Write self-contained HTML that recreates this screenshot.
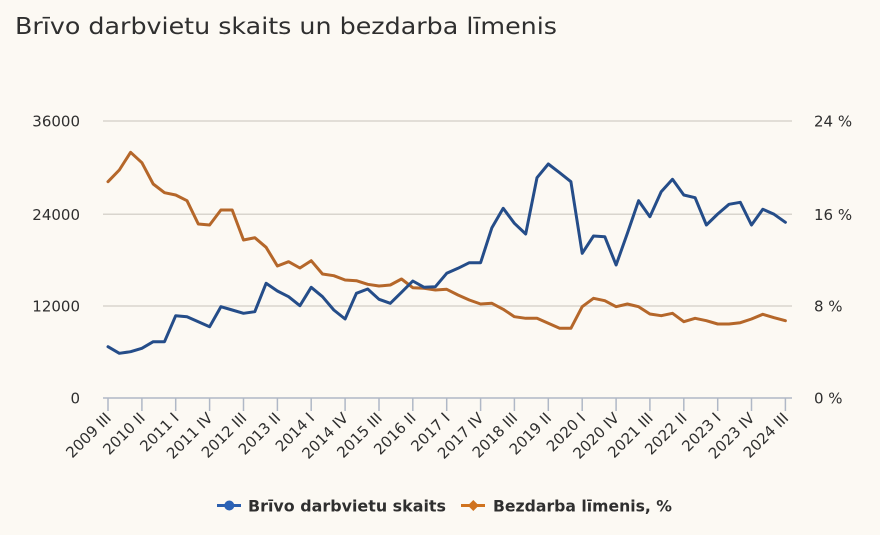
<!DOCTYPE html>
<html>
<head>
<meta charset="utf-8">
<style>
html,body{margin:0;padding:0;background:#fcf9f3;}
svg{display:block;}
text{font-family:"DejaVu Sans","Liberation Sans",sans-serif;fill:#2f2f2f;}
</style>
</head>
<body>
<svg width="880" height="535" viewBox="0 0 880 535" xmlns="http://www.w3.org/2000/svg">
<rect x="0" y="0" width="880" height="535" fill="#fcf9f3"/>
<text x="15" y="34" font-size="23" textLength="542" lengthAdjust="spacingAndGlyphs" fill="#1e1e1e">Brīvo darbvietu skaits un bezdarba līmenis</text>

<!-- grid -->
<g stroke="#d9d5ce" stroke-width="1.5">
<line x1="103" y1="121" x2="792" y2="121"/>
<line x1="103" y1="214.3" x2="792" y2="214.3"/>
<line x1="103" y1="306" x2="792" y2="306"/>
</g>
<line x1="103" y1="398" x2="792" y2="398" stroke="#b0b8c6" stroke-width="1.5"/>
<g stroke="#b0b8c6" stroke-width="1.5">
<line x1="108" y1="398" x2="108" y2="411"/>
<line x1="141.9" y1="398" x2="141.9" y2="411"/>
<line x1="175.7" y1="398" x2="175.7" y2="411"/>
<line x1="209.6" y1="398" x2="209.6" y2="411"/>
<line x1="243.5" y1="398" x2="243.5" y2="411"/>
<line x1="277.4" y1="398" x2="277.4" y2="411"/>
<line x1="311.2" y1="398" x2="311.2" y2="411"/>
<line x1="345.1" y1="398" x2="345.1" y2="411"/>
<line x1="379" y1="398" x2="379" y2="411"/>
<line x1="412.8" y1="398" x2="412.8" y2="411"/>
<line x1="446.7" y1="398" x2="446.7" y2="411"/>
<line x1="480.6" y1="398" x2="480.6" y2="411"/>
<line x1="514.4" y1="398" x2="514.4" y2="411"/>
<line x1="548.3" y1="398" x2="548.3" y2="411"/>
<line x1="582.2" y1="398" x2="582.2" y2="411"/>
<line x1="616.1" y1="398" x2="616.1" y2="411"/>
<line x1="649.9" y1="398" x2="649.9" y2="411"/>
<line x1="683.8" y1="398" x2="683.8" y2="411"/>
<line x1="717.7" y1="398" x2="717.7" y2="411"/>
<line x1="751.5" y1="398" x2="751.5" y2="411"/>
<line x1="785.4" y1="398" x2="785.4" y2="411"/>
</g>

<!-- left axis labels -->
<g font-size="15" text-anchor="end">
<text x="80" y="126.5">36000</text>
<text x="80" y="219.8">24000</text>
<text x="80" y="311.5">12000</text>
<text x="80" y="403.5">0</text>
</g>
<!-- right axis labels -->
<g font-size="15">
<text x="814" y="126.5">24 %</text>
<text x="814" y="219.8">16 %</text>
<text x="814" y="311.5">8 %</text>
<text x="814" y="403.5">0 %</text>
</g>

<!-- x labels -->
<g font-size="15" text-anchor="end">
<text transform="translate(112,419) rotate(-45)">2009 III</text>
<text transform="translate(145.9,419) rotate(-45)">2010 II</text>
<text transform="translate(179.7,419) rotate(-45)">2011 I</text>
<text transform="translate(213.6,419) rotate(-45)">2011 IV</text>
<text transform="translate(247.5,419) rotate(-45)">2012 III</text>
<text transform="translate(281.4,419) rotate(-45)">2013 II</text>
<text transform="translate(315.2,419) rotate(-45)">2014 I</text>
<text transform="translate(349.1,419) rotate(-45)">2014 IV</text>
<text transform="translate(383,419) rotate(-45)">2015 III</text>
<text transform="translate(416.8,419) rotate(-45)">2016 II</text>
<text transform="translate(450.7,419) rotate(-45)">2017 I</text>
<text transform="translate(484.6,419) rotate(-45)">2017 IV</text>
<text transform="translate(518.4,419) rotate(-45)">2018 III</text>
<text transform="translate(552.3,419) rotate(-45)">2019 II</text>
<text transform="translate(586.2,419) rotate(-45)">2020 I</text>
<text transform="translate(620.1,419) rotate(-45)">2020 IV</text>
<text transform="translate(653.9,419) rotate(-45)">2021 III</text>
<text transform="translate(687.8,419) rotate(-45)">2022 II</text>
<text transform="translate(721.7,419) rotate(-45)">2023 I</text>
<text transform="translate(755.5,419) rotate(-45)">2023 IV</text>
<text transform="translate(789.4,419) rotate(-45)">2024 III</text>
</g>

<!-- orange series -->
<polyline fill="none" stroke="#b5672a" stroke-width="3" stroke-linejoin="round" stroke-linecap="round" points="
108.0,181.7 119.3,170 130.6,152.3 141.9,162.7 153.2,184 164.5,192.7 175.7,195 187.0,200.7 198.3,224 209.6,225
220.9,210 232.2,210 243.5,240 254.8,237.7 266.1,247.3 277.4,266 288.6,261.7 299.9,268 311.2,260.7 322.5,274
333.8,275.7 345.1,280 356.4,280.7 367.7,284.3 379.0,286 390.3,285 401.5,279 412.8,287.7 424.1,288.3 435.4,290
446.7,289.3 458.0,295 469.3,300 480.6,304 491.9,303.3 503.2,309.3 514.4,316.7 525.7,318.3 537.0,318.3 548.3,323.3
559.6,328.3 570.9,328.3 582.2,306.7 593.5,298.3 604.8,300.7 616.1,306.7 627.4,304 638.6,306.7 649.9,314 661.2,315.7
672.5,313.3 683.8,321.7 695.1,318.3 706.4,320.7 717.7,324 729.0,324 740.3,322.7 751.5,319 762.8,314.3 774.1,317.7 785.4,320.7"/>

<!-- blue series -->
<polyline fill="none" stroke="#254d89" stroke-width="3" stroke-linejoin="round" stroke-linecap="round" points="
108.0,346.7 119.3,353.3 130.6,351.7 141.9,348.3 153.2,341.7 164.5,341.7 175.7,315.7 187.0,316.7 198.3,321.7 209.6,326.7
220.9,306.7 232.2,310 243.5,313.3 254.8,311.7 266.1,283.3 277.4,291 288.6,296.7 299.9,305.7 311.2,287.3 322.5,296.7
333.8,310 345.1,319 356.4,293.3 367.7,289 379.0,299.3 390.3,303.3 401.5,292.3 412.8,281 424.1,287.3 435.4,286.7
446.7,273.3 458.0,268.3 469.3,262.7 480.6,262.7 491.9,227.7 503.2,208.3 514.4,223.3 525.7,234 537.0,177.7 548.3,164
559.6,172.7 570.9,181.7 582.2,253.3 593.5,236 604.8,236.7 616.1,265 627.4,233.3 638.6,200.7 649.9,216.7 661.2,191.7
672.5,179.3 683.8,195 695.1,197.7 706.4,225 717.7,214 729.0,204.3 740.3,202.3 751.5,225 762.8,209.3 774.1,214.3 785.4,222.3"/>

<!-- legend -->
<line x1="217" y1="505.5" x2="241" y2="505.5" stroke="#2b5fae" stroke-width="3"/>
<circle cx="229.3" cy="505.5" r="5" fill="#2b62b6"/>
<text x="248" y="511.5" font-size="16" font-weight="bold" textLength="198" lengthAdjust="spacingAndGlyphs" fill="#222">Brīvo darbvietu skaits</text>
<line x1="461" y1="505.5" x2="485" y2="505.5" stroke="#d0731f" stroke-width="3"/>
<polygon points="473.3,500 478.8,505.5 473.3,511 467.8,505.5" fill="#d0731f"/>
<text x="493" y="511.5" font-size="16" font-weight="bold" textLength="179" lengthAdjust="spacingAndGlyphs" fill="#222">Bezdarba līmenis, %</text>
</svg>
</body>
</html>
